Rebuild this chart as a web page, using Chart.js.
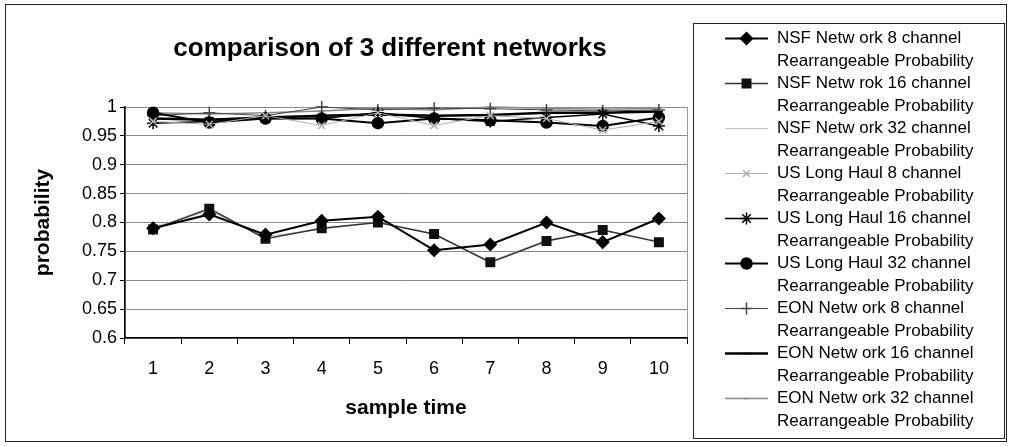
<!DOCTYPE html>
<html>
<head>
<meta charset="utf-8">
<title>comparison of 3 different networks</title>
<script src="https://cdn.jsdelivr.net/npm/chart.js@4/dist/chart.umd.min.js"></script>
<style>
  html, body { margin: 0; padding: 0; background: #fff; }
  #wrap { width: 1009px; height: 446px; }
</style>
</head>
<body>
<div id="wrap"><canvas id="chart" width="1009" height="446"></canvas></div>
<script>
// values
const sampleTimes = ["1", "2", "3", "4", "5", "6", "7", "8", "9", "10"];

const nsf8 = [0.79, 0.814, 0.779, 0.803, 0.81, 0.752, 0.762, 0.8, 0.766, 0.807];
const nsf16 = [0.788, 0.824, 0.772, 0.79, 0.8, 0.78, 0.731, 0.768, 0.787, 0.766];
const nsf32 = [0.792, 0.82, 0.776, 0.788, 0.801, 0.779, 0.733, 0.769, 0.786, 0.768];
const usLongHaul8 = [0.975, 0.97, 0.985, 0.968, 0.99, 0.968, 0.985, 0.98, 0.96, 0.975];
const usLongHaul16 = [0.972, 0.975, 0.98, 0.98, 0.99, 0.98, 0.975, 0.982, 0.988, 0.967];
const usLongHaul32 = [0.99, 0.973, 0.98, 0.98, 0.972, 0.98, 0.977, 0.973, 0.967, 0.982];
const eon8 = [0.985, 0.99, 0.985, 1.0, 0.995, 0.998, 0.997, 0.995, 0.993, 0.995];
const eon16 = [0.98, 0.978, 0.982, 0.985, 0.987, 0.985, 0.986, 0.99, 0.99, 0.992];
const eon32 = [0.99, 0.988, 0.99, 0.993, 0.998, 0.995, 1.0, 0.998, 0.996, 0.998];

const seriesNames = [
  "NSF Netw ork 8 channel",
  "NSF Netw rok 16 channel",
  "NSF Netw ork 32 channel",
  "US Long Haul 8 channel",
  "US Long Haul 16 channel",
  "US Long Haul 32 channel",
  "EON Netw ork 8 channel",
  "EON Netw ork 16 channel",
  "EON Netw ork 32 channel",
];
const secondLine = "Rearrangeable Probability";

const chartTitle = "comparison of 3 different networks";
const xTitle = "sample time";
const yTitle = "probability";

const FONT = "'Liberation Sans', Arial, Helvetica, sans-serif";

function series(idx, data, color, width, style, radius, markColor) {
  const mc = markColor || color;
  return {
    label: seriesNames[idx],
    data: data,
    borderColor: color,
    borderWidth: width,
    backgroundColor: color,
    pointStyle: style,
    pointRadius: style ? radius : 0,
    pointBorderColor: mc,
    pointBackgroundColor: mc,
    pointBorderWidth: 1.5,
    tension: 0,
    clip: false,
  };
}

const datasets = [
  series(0, nsf8, "#000", 2, "rectRot", 6),
  series(1, nsf16, "#333", 1.5, "rect", 6, "#111"),
  series(2, nsf32, "#c4c4c4", 1, false, 0),
  series(3, usLongHaul8, "#b0b0b0", 1, "crossRot", 5),
  series(4, usLongHaul16, "#000", 1.5, "star", 6),
  series(5, usLongHaul32, "#000", 2, "circle", 5.5),
  series(6, eon8, "#444", 1, "cross", 6),
  series(7, eon16, "#000", 2.5, "line", 4),
  series(8, eon32, "#8a8a8a", 1.5, "line", 3),
];

// white page, outer frame, plot area outline, title and the boxed legend
const framePlugin = {
  id: "frame",
  beforeDraw(chart) {
    const { ctx, chartArea: a } = chart;
    ctx.save();
    ctx.fillStyle = "#fff";
    ctx.fillRect(0, 0, chart.width, chart.height);
    ctx.strokeStyle = "#222";
    ctx.lineWidth = 1;
    ctx.strokeRect(5.5, 4.5, 1001, 437);
    ctx.strokeStyle = "#999";
    ctx.strokeRect(a.left + 0.5, a.top + 0.5, a.width, a.height);
    ctx.restore();
  },
  afterDraw(chart) {
    const ctx = chart.ctx;
    ctx.save();
    ctx.fillStyle = "#000";
    ctx.textAlign = "center";
    ctx.textBaseline = "middle";
    ctx.font = "bold 26px " + FONT;
    ctx.fillText(chartTitle, 390, 49);

    // legend box
    ctx.strokeStyle = "#222";
    ctx.lineWidth = 1;
    ctx.strokeRect(693.5, 23.5, 311, 415);
    ctx.font = "17px " + FONT;
    ctx.textAlign = "left";
    chart.data.datasets.forEach((ds, i) => {
      const y = 38.5 + 45 * i;
      ctx.strokeStyle = ds.borderColor;
      ctx.lineWidth = ds.borderWidth;
      ctx.beginPath();
      ctx.moveTo(725, y);
      ctx.lineTo(768, y);
      ctx.stroke();
      if (ds.pointStyle && Chart.helpers && Chart.helpers.drawPoint) {
        ctx.fillStyle = ds.pointBackgroundColor;
        ctx.strokeStyle = ds.pointBorderColor;
        ctx.lineWidth = ds.pointBorderWidth;
        Chart.helpers.drawPoint(ctx, {
          pointStyle: ds.pointStyle,
          radius: ds.pointRadius,
          rotation: 0,
          borderWidth: ds.pointBorderWidth,
        }, 746.5, y);
      }
      ctx.fillStyle = "#000";
      ctx.fillText(ds.label, 777, y);
      ctx.fillText(secondLine, 777, y + 22.5);
    });
    ctx.restore();
  },
};

new Chart(document.getElementById("chart"), {
  type: "line",
  data: { labels: sampleTimes, datasets: datasets },
  options: {
    responsive: false,
    animation: false,
    layout: { padding: { top: 107, right: 322, bottom: 0, left: 0 } },
    plugins: {
      legend: { display: false },
      title: { display: false },
      tooltip: { enabled: false },
    },
    scales: {
      x: {
        offset: true,
        afterFit: (scale) => { scale.height = 108; },
        grid: {
          offset: true,
          drawOnChartArea: false,
          tickLength: 6,
          tickColor: "#000",
        },
        border: { color: "#000", width: 1.5 },
        ticks: { color: "#000", font: { size: 18, family: FONT }, padding: 14 },
        title: {
          display: true,
          text: xTitle,
          color: "#000",
          font: { size: 21, weight: "bold", family: FONT },
          padding: 25,
        },
      },
      y: {
        min: 0.6,
        max: 1,
        afterFit: (scale) => { scale.width = 125; },
        grid: {
          color: "#8a8a8a",
          tickColor: "#000",
          tickLength: 5,
        },
        border: { color: "#000", width: 1.5 },
        ticks: {
          stepSize: 0.05,
          color: "#000",
          font: { size: 18, family: FONT },
          padding: 3,
          callback: (v) => String(Math.round(v * 100) / 100),
        },
        title: {
          display: true,
          text: yTitle,
          color: "#000",
          font: { size: 21, weight: "bold", family: FONT },
          padding: 31,
        },
      },
    },
  },
  plugins: [framePlugin],
});
</script>
</body>
</html>
